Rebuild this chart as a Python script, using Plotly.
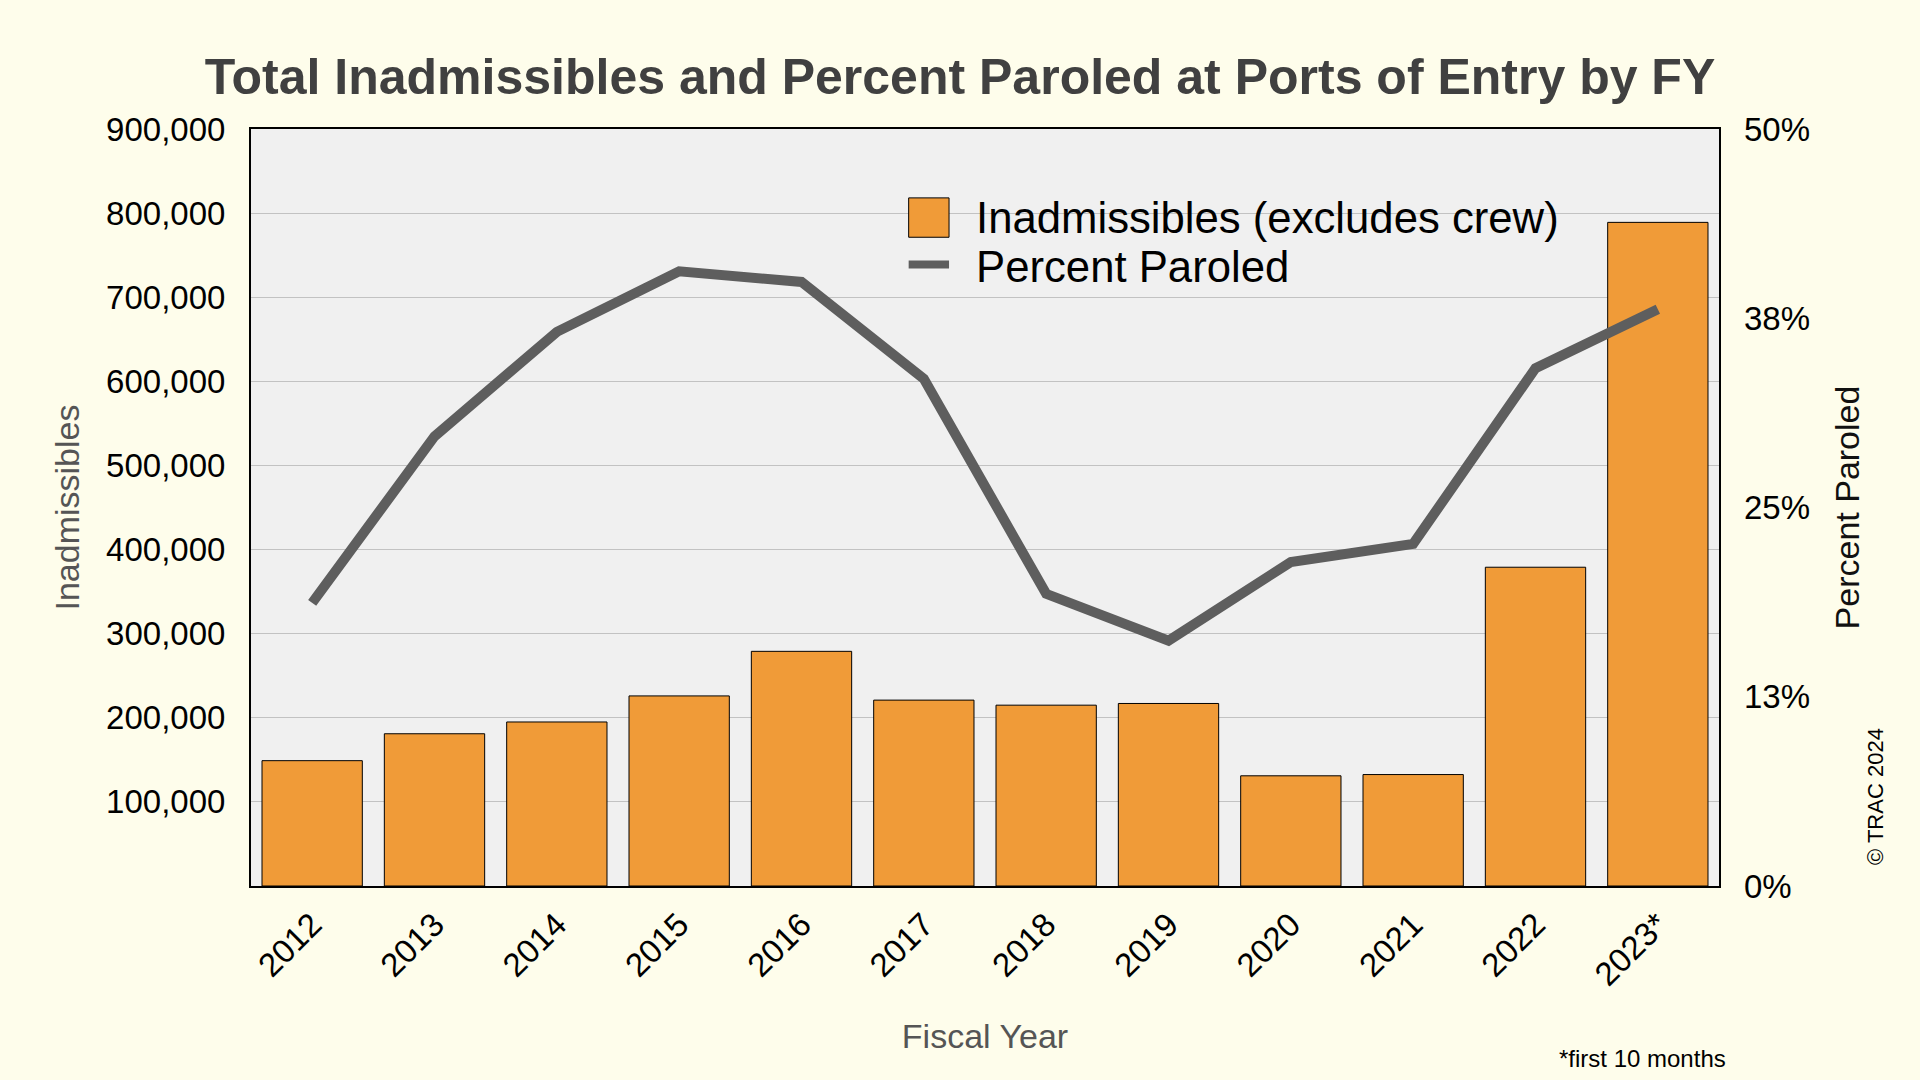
import plotly.graph_objects as go

years = ["2012", "2013", "2014", "2015", "2016", "2017", "2018", "2019", "2020", "2021", "2022", "2023*"]
inadmissibles = [149000, 181000, 195000, 226000, 279000, 221000, 215000, 217000, 131000, 132500, 379000, 789000]
pct_paroled = [18.7, 29.7, 36.6, 40.6, 39.9, 33.5, 19.3, 16.2, 21.4, 22.6, 34.2, 38.1]

left_ticks = [100000, 200000, 300000, 400000, 500000, 600000, 700000, 800000, 900000]
left_ticktext = ["100,000", "200,000", "300,000", "400,000", "500,000", "600,000", "700,000", "800,000", "900,000"]
right_ticks = [0, 12.5, 25, 37.5, 50]
right_ticktext = ["0%", "13%", "25%", "38%", "50%"]

BAR_COLOR = "#F09B38"
LINE_COLOR = "#5E5E5E"
PAPER = "#FEFDEB"
FONT = "Liberation Sans, Arial, Helvetica, sans-serif"

fig = go.Figure()
fig.add_trace(go.Bar(
    x=years, y=inadmissibles, name="Inadmissibles (excludes crew)",
    marker=dict(color=BAR_COLOR, line=dict(color="black", width=1)),
    showlegend=False, yaxis="y",
))
fig.add_trace(go.Scatter(
    x=years, y=pct_paroled, name="Percent Paroled", mode="lines",
    line=dict(color=LINE_COLOR, width=10),
    showlegend=False, yaxis="y2",
))

fig.update_layout(
    width=1920, height=1080,
    paper_bgcolor=PAPER,
    plot_bgcolor="#F0F0F0",
    margin=dict(l=251, r=201, t=129, b=194),
    bargap=0.18,
    font=dict(family=FONT, color="black"),
    title=dict(
        text="<b>Total Inadmissibles and Percent Paroled at Ports of Entry by FY</b>",
        x=0.5, xanchor="center", y=1 - 76 / 1080, yanchor="middle",
        font=dict(size=50, color="#404040", family=FONT),
    ),
    xaxis=dict(
        tickangle=-45, tickfont=dict(size=33, color="black"),
        showline=True, linecolor="black", linewidth=2, mirror=True,
        showgrid=False, ticks="", ticklabelstandoff=4,
        title=dict(text="Fiscal Year", font=dict(size=34, color="#555555"), standoff=32),
    ),
    yaxis=dict(
        range=[0, 900000], tickvals=left_ticks, ticktext=left_ticktext,
        tickfont=dict(size=33, color="black"),
        showline=True, linecolor="black", linewidth=2, mirror=True,
        showgrid=True, gridcolor="#C2C2C2", gridwidth=1, zeroline=False,
        ticks="", ticklabelstandoff=17,
        title=dict(text="Inadmissibles", font=dict(size=34, color="#555555"), standoff=16),
    ),
    yaxis2=dict(
        range=[0, 50], tickvals=right_ticks, ticktext=right_ticktext,
        overlaying="y", side="right",
        tickfont=dict(size=33, color="black"),
        showgrid=False, zeroline=False, showline=False,
        ticks="", ticklabelstandoff=24,
        title=dict(text="Percent Paroled", font=dict(size=34, color="#111111"), standoff=26),
    ),
)

# Legend (drawn manually to match the large swatches)
fig.add_shape(type="rect", xref="paper", yref="paper",
              x0=0.448, x1=0.4755, y0=0.857, y1=0.909,
              fillcolor=BAR_COLOR, line=dict(color="black", width=1))
fig.add_shape(type="line", xref="paper", yref="paper",
              x0=0.448, x1=0.4755, y0=0.821, y1=0.821,
              line=dict(color=LINE_COLOR, width=8))
fig.add_annotation(xref="paper", yref="paper", x=0.4925, y=0.883, xanchor="left", yanchor="middle",
                   text="Inadmissibles (excludes crew)", showarrow=False,
                   font=dict(size=43.7, color="black", family=FONT))
fig.add_annotation(xref="paper", yref="paper", x=0.4925, y=0.819, xanchor="left", yanchor="middle",
                   text="Percent Paroled", showarrow=False,
                   font=dict(size=43.7, color="black", family=FONT))

# Copyright and footnote
fig.add_annotation(xref="paper", yref="paper", x=(1875 - 251) / 1468, y=(886 - 796) / 757,
                   xanchor="center", yanchor="middle", textangle=-90,
                   text="© TRAC 2024", showarrow=False,
                   font=dict(size=22, color="black", family=FONT))
fig.add_annotation(xref="paper", yref="paper", x=(1728 - 251) / 1468, y=(886 - 1058) / 757,
                   xanchor="right", yanchor="middle",
                   text="*first 10 months", showarrow=False,
                   font=dict(size=24, color="black", family=FONT))

fig.write_html(
    "out.html",
    config={"displayModeBar": False},
    post_script=(
        "document.body.style.margin='0';"
        "document.body.style.padding='0';"
        "document.body.style.background='" + PAPER + "';"
    ),
)
